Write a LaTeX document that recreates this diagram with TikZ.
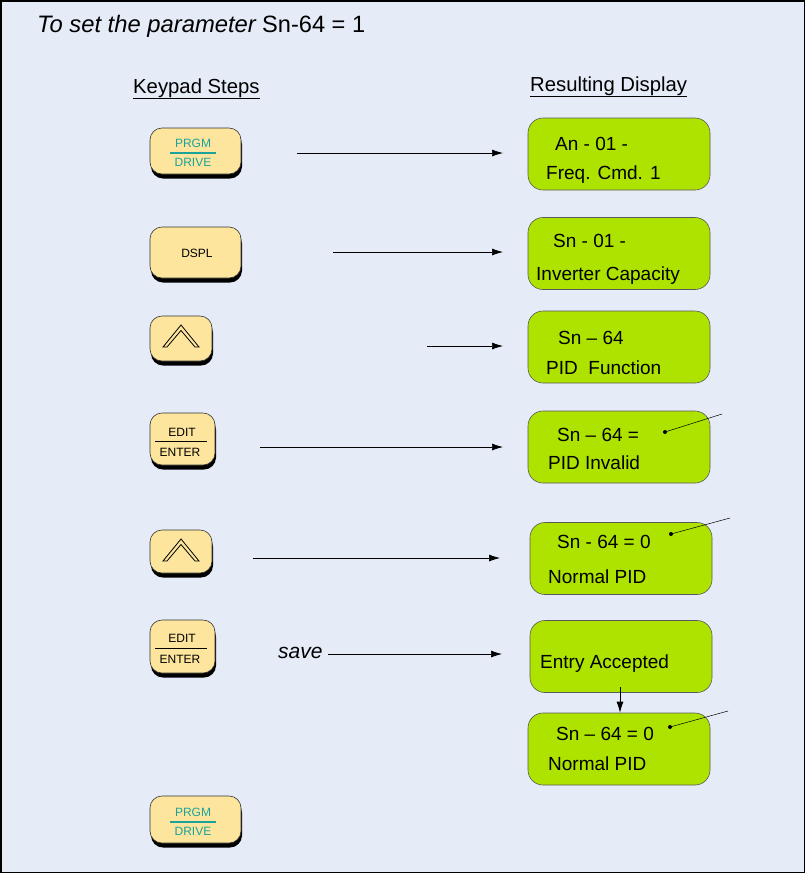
\documentclass[tikz,border=0pt]{standalone}
\usepackage{fontspec}
\setmainfont{Liberation Sans}
\usetikzlibrary{arrows.meta,shadows}
\definecolor{bgc}{HTML}{E5ECF7}
\definecolor{keyc}{HTML}{FDE59E}
\definecolor{dispc}{HTML}{AEE300}
\definecolor{tealc}{HTML}{1AA39B}
\tikzset{
  keybtn/.style={draw=black!80, line width=0.6pt, fill=keyc, rounded corners=12pt,
    drop shadow={shadow xshift=1pt, shadow yshift=-4.5pt, fill=black, opacity=1}},
  disp/.style={draw=black!65, line width=0.6pt, fill=dispc, rounded corners=15pt,
    minimum width=182pt, minimum height=72pt, inner sep=0pt},
  dtext/.style={anchor=base west, inner sep=0pt, font=\fontsize{19}{22}\selectfont},
  ktext/.style={inner sep=0pt, font=\fontsize{12}{14}\selectfont},
  head/.style={anchor=base west, inner sep=0pt, font=\fontsize{20.3}{23}\selectfont},
  flow/.style={-{Latex[length=11pt,width=7pt]}, line width=0.7pt},
  pin/.style={line width=0.5pt},
  chev/.style={draw=black, line width=0.8pt, fill=keyc, line join=miter}
}
\begin{document}
\begin{tikzpicture}[x=1pt,y=-1pt]
\useasboundingbox (0,0) rectangle (806,879);
\fill[white] (0,0) rectangle (806,879);
\draw[fill=bgc, line width=1.5pt] (0.75,0.75) rectangle (804.5,872.5);

% title and headings
\node[anchor=base west, inner sep=0pt, font=\fontsize{23.8}{26}\selectfont\itshape] (title) at (37,32) {To set the parameter};
\node[anchor=base west, inner sep=0pt, font=\fontsize{23.6}{26}\selectfont] (titleb) at (262,32) {Sn-64 = 1};
\node[head] (h1) at (133,93) {\underline{Keypad Steps}};
\node[head] (h2) at (530,91) {\underline{Resulting Display}};

% keypad buttons
\node[keybtn, minimum width=91pt, minimum height=46pt] (k1) at (195.5,151) {};
\node[keybtn, minimum width=91pt, minimum height=51pt] (k2) at (195.5,252.5) {};
\node[keybtn, minimum width=62pt, minimum height=45pt] (k3) at (181,338.5) {};
\node[keybtn, minimum width=65pt, minimum height=52pt] (k4) at (182.5,439) {};
\node[keybtn, minimum width=62pt, minimum height=43pt] (k5) at (181,551.5) {};
\node[keybtn, minimum width=65pt, minimum height=53pt] (k6) at (182.5,646.5) {};
\node[keybtn, minimum width=91pt, minimum height=47pt] (k7) at (195.5,819.5) {};

% key labels
\node[ktext, text=tealc] (k1a) at (193,143) {PRGM};
\node[ktext, text=tealc] (k1b) at (193,162) {DRIVE};
\draw[tealc, line width=1.6pt] (170,153) -- (216,153);
\node[ktext] (k2a) at (197,253) {DSPL};
\node[ktext] (k4a) at (182,432) {EDIT};
\node[ktext] (k4b) at (180,452) {ENTER};
\draw[black, line width=1pt] (155,441.5) -- (207,441.5);
\node[ktext] (k6a) at (182,638) {EDIT};
\node[ktext] (k6b) at (180,659) {ENTER};
\draw[black, line width=1pt] (155,648.5) -- (207,648.5);
\node[ktext, text=tealc] (k7a) at (193,812) {PRGM};
\node[ktext, text=tealc] (k7b) at (193,831) {DRIVE};
\draw[tealc, line width=1.6pt] (170,822) -- (216,822);

% chevrons
\draw[chev] (163,347) -- (181,325) -- (199,347) -- (195,347) -- (181,330.5) -- (167,347) -- cycle;
\draw[chev] (163,561) -- (181,539) -- (199,561) -- (195,561) -- (181,544.5) -- (167,561) -- cycle;

% displays
\node[disp] (d1) at (619,154) {};
\node[disp] (d2) at (619,253.5) {};
\node[disp] (d3) at (619,347) {};
\node[disp] (d4) at (619,447) {};
\node[disp] (d5) at (621,558.5) {};
\node[disp] (d6) at (621,656.5) {};
\node[disp] (d7) at (619,749) {};

\node[dtext] (t1a) at (555,150) {An - 01 -};
\node[dtext] (t1b) at (546,179) {Freq. Cmd. 1};
\node[dtext] (t2a) at (553,247) {Sn - 01 -};
\node[dtext] (t2b) at (536,280) {Inverter Capacity};
\node[dtext] (t3a) at (558,344) {Sn – 64};
\node[dtext] (t3b) at (546,374) {PID\ \ Function};
\node[dtext] (t4a) at (557,441) {Sn – 64 =};
\node[dtext] (t4b) at (548,469) {PID Invalid};
\node[dtext] (t5a) at (557,548) {Sn - 64 = 0};
\node[dtext] (t5b) at (548,583) {Normal PID};
\node[dtext] (t6a) at (540,668) {Entry Accepted};
\node[dtext] (t7a) at (556,740) {Sn – 64 = 0};
\node[dtext] (t7b) at (548,770) {Normal PID};

% pins
\coordinate (p4) at (665,432); \coordinate (q4) at (722,414);
\coordinate (p5) at (671,534); \coordinate (q5) at (730,518);
\coordinate (p7) at (670,727); \coordinate (q7) at (728,711);
\fill (p4) circle (2pt); \draw[pin] (p4) -- (q4);
\fill (p5) circle (2pt); \draw[pin] (p5) -- (q5);
\fill (p7) circle (2pt); \draw[pin] (p7) -- (q7);

% flow arrows
\coordinate (a1) at (297,153); \coordinate (e1) at (503,153);
\coordinate (a2) at (333,252); \coordinate (e2) at (503,252);
\coordinate (a3) at (427,346); \coordinate (e3) at (503,346);
\coordinate (a4) at (260,447); \coordinate (e4) at (503,447);
\coordinate (a5) at (253,558); \coordinate (e5) at (500,558);
\coordinate (a6) at (328,654); \coordinate (e6) at (502,654);
\draw[flow] (a1) -- (e1);
\draw[flow] (a2) -- (e2);
\draw[flow] (a3) -- (e3);
\draw[flow] (a4) -- (e4);
\draw[flow] (a5) -- (e5);
\draw[flow] (a6) -- (e6);
\node[anchor=base west, inner sep=0pt, font=\fontsize{21}{24}\selectfont\itshape] (save) at (278,658) {save};
\coordinate (da) at (620,687);
\draw[flow] (da) -- (d7.north -| da);
\end{tikzpicture}
\end{document}
